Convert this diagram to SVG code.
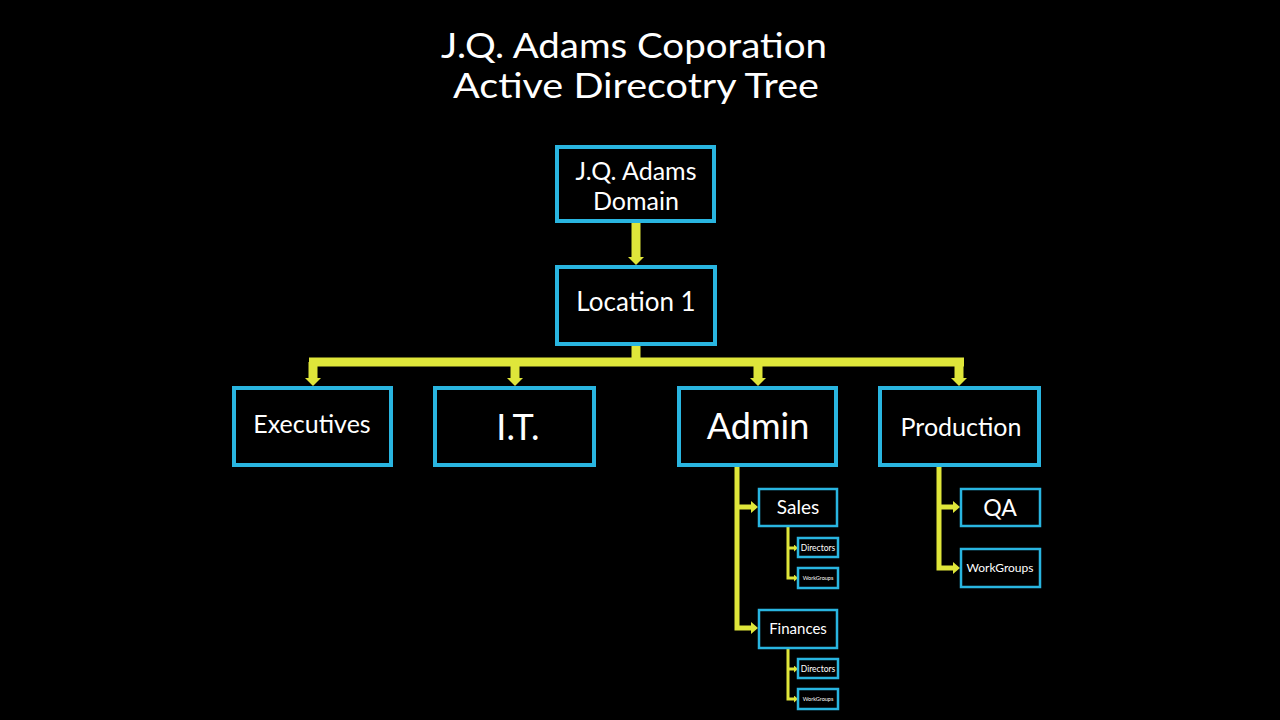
<svg xmlns="http://www.w3.org/2000/svg" width="1280" height="720" viewBox="0 0 1280 720">
<style>
.box{fill:#000;stroke:#29B5E0;stroke-width:4}
.sbox{fill:#000;stroke:#29B5E0;stroke-width:2.5}
.t{fill:#fff;font-family:Lato,"Open Sans","DejaVu Sans",sans-serif;text-anchor:middle}
.c{fill:none;stroke:#DFE63A;stroke-linejoin:miter}
.c9{stroke-width:9}
.c5{stroke-width:5}
.c3{stroke-width:3}
</style>
<defs>
<marker id="aL" markerUnits="userSpaceOnUse" viewBox="0 0 8 16" markerWidth="8" markerHeight="16" refX="0" refY="8" orient="auto"><path d="M0,0 L8,8 L0,16 z" fill="#DFE63A"/></marker>
<marker id="aM" markerUnits="userSpaceOnUse" viewBox="0 0 7 12" markerWidth="7" markerHeight="12" refX="0" refY="6" orient="auto"><path d="M0,0 L7,6 L0,12 z" fill="#DFE63A"/></marker>
<marker id="aS" markerUnits="userSpaceOnUse" viewBox="0 0 4 7" markerWidth="4" markerHeight="7" refX="0" refY="3.5" orient="auto"><path d="M0,0 L4,3.5 L0,7 z" fill="#DFE63A"/></marker>
</defs>
<rect width="1280" height="720" fill="#000"/>
<g id="title">
<text class="t" x="634" y="58" font-size="35" textLength="386" lengthAdjust="spacingAndGlyphs">J.Q. Adams Coporation</text>
<text class="t" x="636" y="98" font-size="35" textLength="366" lengthAdjust="spacingAndGlyphs">Active Direcotry Tree</text>
</g>
<g id="connectors">
<path class="c c9" d="M636,222 V257" marker-end="url(#aL)"/>
<path class="c c9" d="M636,345 V362"/>
<path class="c c9" d="M309,362 H964"/>
<path class="c c9" d="M313,362 V378" marker-end="url(#aL)"/>
<path class="c c9" d="M515,362 V378" marker-end="url(#aL)"/>
<path class="c c9" d="M758,362 V378" marker-end="url(#aL)"/>
<path class="c c9" d="M959,362 V378" marker-end="url(#aL)"/>
<path class="c c5" d="M737,467 V628 H751" marker-end="url(#aM)"/>
<path class="c c5" d="M737,507 H751" marker-end="url(#aM)"/>
<path class="c c3" d="M788,527 V578 H794" marker-end="url(#aS)"/>
<path class="c c3" d="M788,548 H794" marker-end="url(#aS)"/>
<path class="c c3" d="M788,649 V699 H794" marker-end="url(#aS)"/>
<path class="c c3" d="M788,669 H794" marker-end="url(#aS)"/>
<path class="c c5" d="M939,467 V568 H953" marker-end="url(#aM)"/>
<path class="c c5" d="M939,507 H953" marker-end="url(#aM)"/>
</g>
<g id="domain">
<rect class="box" x="557" y="147" width="157" height="74"/>
<text class="t" x="636" y="180" font-size="25">J.Q. Adams</text>
<text class="t" x="636" y="210" font-size="25">Domain</text>
</g>
<g id="location1">
<rect class="box" x="557" y="267" width="158" height="77"/>
<text class="t" x="636" y="311" font-size="26">Location 1</text>
</g>
<g id="executives">
<rect class="box" x="234" y="388" width="157" height="77"/>
<text class="t" x="312" y="433" font-size="25">Executives</text>
</g>
<g id="it">
<rect class="box" x="435" y="388" width="159" height="77"/>
<text class="t" x="518" y="440" font-size="36">I.T.</text>
</g>
<g id="admin">
<rect class="box" x="679" y="388" width="157" height="77"/>
<text class="t" x="758" y="439" font-size="36">Admin</text>
</g>
<g id="production">
<rect class="box" x="880" y="388" width="159" height="77"/>
<text class="t" x="961" y="436" font-size="25">Production</text>
</g>
<g id="sales">
<rect class="sbox" x="759" y="489" width="78" height="37"/>
<text class="t" x="798" y="514" font-size="19">Sales</text>
</g>
<g id="sales-directors">
<rect class="sbox" x="798" y="538" width="40" height="19"/>
<text class="t" x="818" y="551" font-size="8.5">Directors</text>
</g>
<g id="sales-workgroups">
<rect class="sbox" x="798" y="568" width="40" height="20"/>
<text class="t" x="818" y="580" font-size="5.5">WorkGroups</text>
</g>
<g id="finances">
<rect class="sbox" x="759" y="610" width="78" height="38"/>
<text class="t" x="798" y="634" font-size="15">Finances</text>
</g>
<g id="finances-directors">
<rect class="sbox" x="798" y="659" width="40" height="19"/>
<text class="t" x="818" y="672" font-size="8.5">Directors</text>
</g>
<g id="finances-workgroups">
<rect class="sbox" x="798" y="689" width="40" height="20"/>
<text class="t" x="818" y="701" font-size="5.5">WorkGroups</text>
</g>
<g id="qa">
<rect class="sbox" x="961" y="489" width="79" height="37"/>
<text class="t" x="1000" y="516" font-size="23">QA</text>
</g>
<g id="prod-workgroups">
<rect class="sbox" x="961" y="549" width="79" height="38"/>
<text class="t" x="1000" y="572" font-size="12">WorkGroups</text>
</g>
</svg>
